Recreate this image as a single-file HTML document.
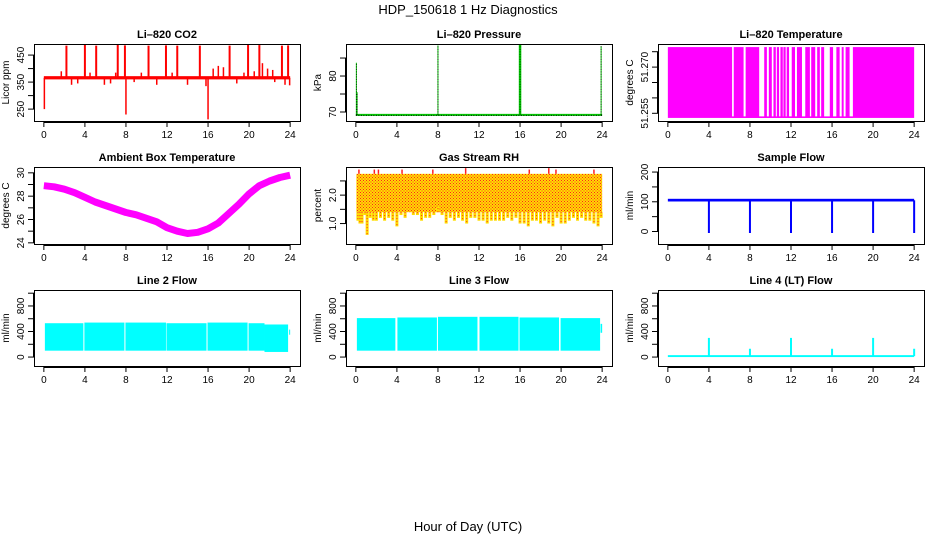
<!DOCTYPE html>
<html><head><meta charset="utf-8"><style>
html,body{margin:0;padding:0;background:#fff;}
svg{display:block;font-family:"Liberation Sans",sans-serif;}
</style></head><body>
<svg id="c" width="936" height="540" viewBox="0 0 936 540">
<text x="468" y="14" text-anchor="middle" font-size="13">HDP_150618  1 Hz Diagnostics</text>
<text x="468" y="531" text-anchor="middle" font-size="13">Hour of Day (UTC)</text>
<defs>
<pattern id="rhpat" width="3" height="3" patternUnits="userSpaceOnUse"><rect width="3" height="3" fill="#ffdd00"/><rect x="0" y="0" width="1" height="1" fill="#ff2020"/><rect x="1.5" y="1.5" width="1" height="1" fill="#ff2020"/></pattern>
</defs>
</svg>
<script>
// ---- data ----
const xTicks=[0,4,8,12,16,20,24];
const co2SpikeHours=[2.2,4.0,5.1,7.2,7.9,10.2,11.9,13.0,15.2,18.1,19.9,21.0,23.2,23.8];
const co2SpikeValues=[485,488,485,488,486,485,486,485,485,485,488,487,485,486];
const co2BumpHours=[1.7,2.7,3.3,4.5,5.9,6.5,7.0,8.8,9.5,11.0,12.5,14.0,15.8,16.5,17.0,17.5,18.8,19.5,20.5,21.3,21.8,22.3,22.5,23.5];
const co2BumpValues=[390,340,345,385,340,345,385,350,385,340,385,340,335,400,410,405,345,385,390,420,400,395,350,340];
const co2DipHours=[0.05,8.0,16.0,23.95];
const co2DipValues=[250,230,212,338];
const co2Base=366;
const presBase=69.2;
const presSpikeHours=[0.05,0.12,8.0,16.0,23.9];
const presSpikeValues=[83.7,75.5,88.5,88.9,88.3];
const tempLow=51.2535, tempHigh=51.2765;
const tempGapStart=[6.26,7.38,8.9,9.65,10.13,10.52,10.84,11.2,11.48,11.81,12.39,13.07,13.84,14.36,14.81,15.23,16.1,16.74,17.13,17.71];
const tempGapEnd=[6.42,7.58,9.39,9.84,10.29,10.62,10.97,11.26,11.58,12.07,12.58,13.39,13.97,14.55,14.94,15.78,16.42,16.94,17.32,18.03];
const ambHours=[0,1,2,3,4,5,6,7,8,9,10,11,12,13,14,15,16,17,18,19,20,21,22,23,24];
const ambValues=[28.9,28.8,28.6,28.3,27.9,27.5,27.2,26.9,26.6,26.4,26.1,25.8,25.3,25.0,24.8,24.9,25.2,25.7,26.5,27.3,28.2,28.9,29.3,29.6,29.8];
const rhTop=2.75, rhBandLow=1.4;
const rhLowHours=[0.2,0.4,0.6,0.9,1.1,1.4,1.7,2.0,2.4,2.8,3.2,3.6,4.0,4.4,4.8,5.2,5.6,6.0,6.4,6.8,7.2,7.6,8.0,8.4,8.8,9.2,9.6,10.0,10.4,10.8,11.2,11.6,12.0,12.4,12.8,13.2,13.6,14.0,14.4,14.8,15.2,15.6,16.0,16.4,16.8,17.2,17.6,18.0,18.4,18.8,19.2,19.6,20.0,20.4,20.8,21.2,21.6,22.0,22.4,22.8,23.2,23.6,23.9];
const rhLowValues=[1.1,1.0,1.0,1.3,0.6,1.2,1.1,1.1,1.2,1.1,1.2,1.1,0.9,1.3,1.2,1.4,1.3,1.3,1.1,1.2,1.2,1.3,1.6,1.3,1.0,1.2,1.1,1.2,1.1,1.0,1.2,1.2,1.1,1.1,1.0,1.1,1.1,1.1,1.1,1.2,1.1,1.2,1.0,1.0,0.9,1.1,1.1,1.0,1.1,1.0,0.9,1.2,1.0,1.0,1.1,1.2,1.1,1.2,1.1,1.1,1.0,0.9,1.2];
const rhHighHours=[0.3,1.8,2.2,4.5,7.5,10.7,16.9,18.8,19.5,23.2];
const rhHighValues=[2.9,2.9,2.9,2.9,2.9,2.95,2.9,2.95,2.9,2.9];
const sfBase=105;
const sfDipHours=[4,8,12,16,20,24];
const sfDipValues=[-5,-5,-5,-5,-5,-5];
const l2Start=[0.1,3.95,7.95,11.95,15.95,19.95,21.5,23.9];
const l2End=[3.85,7.85,11.9,15.85,19.85,21.5,23.8,24.0];
const l2Top=[530,540,540,530,540,530,510,430];
const l2Bottom=[100,100,100,100,100,100,80,350];
const l3Start=[0.1,4.05,8.0,12.05,15.95,19.95,23.85];
const l3End=[3.85,7.9,11.85,15.85,19.8,23.8,24.0];
const l3Top=[610,620,630,630,620,610,520];
const l3Bottom=[100,100,100,100,100,100,380];
const l4Base=15;
const l4SpikeHours=[4,8,12,16,20,24];
const l4SpikeValues=[300,130,300,130,300,130];

// ---- helpers ----
const svg=document.getElementById('c');
const NS='http://www.w3.org/2000/svg';
function el(tag,attrs,parent){const e=document.createElementNS(NS,tag);for(const k in attrs)e.setAttribute(k,attrs[k]);(parent||svg).appendChild(e);return e;}
const cols=[34,346,658], W=266;
const rows=[[44,121],[167,244],[290,366]];
function panel(ci,ri,name,title,ylab,ymin,ymax,ticks,labels){
  const L=cols[ci],R=L+W,T=rows[ri][0],B=rows[ri][1];
  const g=el('g',{});
  
  
  const xs=h=>L+(h+0.96)/25.92*W;
  const ys=v=>B-(v-ymin)/(ymax-ymin)*(B-T);
  const t=el('text',{x:(L+R)/2,y:T-6,'text-anchor':'middle','font-size':11,'font-weight':'bold'},g);t.textContent=title;
  
  
  const yl=el('text',{transform:`translate(${L-25},${(T+B)/2}) rotate(-90)`,'text-anchor':'middle','font-size':10},g);yl.textContent=ylab;
  
  
  const marks=el('g',{},g);
  
  
  const ax=el('g',{stroke:'#000','stroke-width':1,fill:'none'},g);
  
  
  el('rect',{x:L+.5,y:T+.5,width:W,height:B-T},ax);
  el('line',{x1:xs(0),x2:xs(24),y1:B+1.5,y2:B+1.5},ax);
  xTicks.forEach(h=>{el('line',{x1:xs(h),x2:xs(h),y1:B+1,y2:B+6},ax);
    const tx=el('text',{x:xs(h),y:B+17,'text-anchor':'middle','font-size':10,fill:'#000',stroke:'none'},g);tx.textContent=h;
    
    });
  el('line',{x1:L-.5,x2:L-.5,y1:ys(ticks[0]),y2:ys(ticks[ticks.length-1])},ax);
  ticks.forEach(v=>el('line',{x1:L-6,x2:L,y1:ys(v),y2:ys(v)},ax));
  labels.forEach(v=>{const tx=el('text',{transform:`translate(${L-10},${ys(v)}) rotate(-90)`,'text-anchor':'middle','font-size':10},g);tx.textContent=v;
    
    });
  return {xs,ys,g:marks};
}
function vline(p,h,v1,v2,col,w){const l=el('line',{x1:p.xs(h),x2:p.xs(h),y1:p.ys(v1),y2:p.ys(v2),stroke:col,'stroke-width':w||1.5},p.g);return l;}
function band(p,h1,h2,v1,v2,fill){return el('rect',{x:p.xs(h1),width:Math.max(0.5,p.xs(h2)-p.xs(h1)),y:p.ys(v2),height:p.ys(v1)-p.ys(v2),fill},p.g);}

// CO2
let p=panel(0,0,'co2','Li\u2013820 CO2','Licor ppm',206,491,[250,300,350,400,450],[250,350,450]);
band(p,0,24,co2Base-6,co2Base+6,'#ff0000');
co2BumpHours.forEach((h,i)=>{const m=vline(p,h,co2Base,co2BumpValues[i],'#ff0000',1.5);});
co2SpikeHours.forEach((h,i)=>{const m=vline(p,h,co2Base,co2SpikeValues[i],'#ff0000',2);});
co2DipHours.forEach((h,i)=>{const m=vline(p,h,co2Base,co2DipValues[i],'#ff0000',1.5);});

// Pressure
p=panel(1,0,'pressure','Li\u2013820 Pressure','kPa',67.5,88.9,[70,75,80,85],[70,80]);
const pb=el('line',{x1:p.xs(0),x2:p.xs(24),y1:p.ys(presBase),y2:p.ys(presBase),stroke:'#00cc00','stroke-width':2},p.g);

const pb2=el('line',{x1:p.xs(0),x2:p.xs(24),y1:p.ys(presBase)+0.5,y2:p.ys(presBase)+0.5,stroke:'#000','stroke-width':1,'stroke-dasharray':'1 1.5'},p.g);

presSpikeHours.forEach((h,i)=>{const m=vline(p,h,presBase,presSpikeValues[i],'#00cc00',i==3?2.5:1);
  const d=vline(p,h,presBase,presSpikeValues[i],'#000',1);d.setAttribute('stroke-dasharray','1 1.5');d.setAttribute('stroke-width',0.8);
  });

// Temperature
p=panel(2,0,'temperature','Li\u2013820 Temperature','degrees C',51.2525,51.2775,[51.255,51.26,51.265,51.27,51.275],['51.255','51.270']);
band(p,0,24,tempLow,tempHigh,'#ff00ff');
tempGapStart.forEach((s,i)=>{const r=band(p,s,tempGapEnd[i],tempLow+0.0005,tempHigh+0.0002,'#fff');});
band(p,6.26,18.03,tempLow,tempLow+0.0004,'#ff00ff');

// Ambient
p=panel(0,1,'ambient','Ambient Box Temperature','degrees C',23.9,30.5,[24,25,26,27,28,29,30],[24,26,28,30]);
const amb=el('polyline',{points:ambHours.map((h,i)=>p.xs(h)+','+p.ys(ambValues[i])).join(' '),fill:'none',stroke:'#ff00ff','stroke-width':7,'stroke-linejoin':'round'},p.g);


// RH
p=panel(1,1,'rh','Gas Stream RH','percent',0.28,2.99,[1.0,1.5,2.0,2.5],['1.0','2.0']);
band(p,0.05,24,rhBandLow,rhTop,'url(#rhpat)');
rhLowHours.forEach((h,i)=>{const m=vline(p,h,rhBandLow,rhLowValues[i],'#ffdd00',3);
  const d=vline(p,h,rhBandLow,rhLowValues[i],'#ff2020',1);d.setAttribute('stroke-dasharray','1 2');});
rhHighHours.forEach((h,i)=>{const m=vline(p,h,rhTop,rhHighValues[i],'#ff2020',1.5);});

// Sample flow
p=panel(2,1,'sample-flow','Sample Flow','ml/min',-42,217,[0,50,100,150,200],[0,100,200]);
band(p,0,24,sfBase-4,sfBase+5,'#0000ff');
sfDipHours.forEach((h,i)=>{const m=vline(p,h,sfBase,sfDipValues[i],'#0000ff',2);});

// Line 2
p=panel(0,2,'line2','Line 2 Flow','ml/min',-140,1050,[0,200,400,600,800,1000],[0,400,800]);
l2Start.forEach((s,i)=>{const r=band(p,s,l2End[i],l2Bottom[i],l2Top[i],'#00ffff');});
// Line 3
p=panel(1,2,'line3','Line 3 Flow','ml/min',-140,1050,[0,200,400,600,800,1000],[0,400,800]);
l3Start.forEach((s,i)=>{const r=band(p,s,l3End[i],l3Bottom[i],l3Top[i],'#00ffff');});
// Line 4
p=panel(2,2,'line4','Line 4 (LT) Flow','ml/min',-140,1050,[0,200,400,600,800,1000],[0,400,800]);
band(p,0,24,l4Base-15,l4Base+15,'#00ffff');
l4SpikeHours.forEach((h,i)=>{const m=vline(p,h,l4Base,l4SpikeValues[i],'#00ffff',2);});
</script>
</body></html>
